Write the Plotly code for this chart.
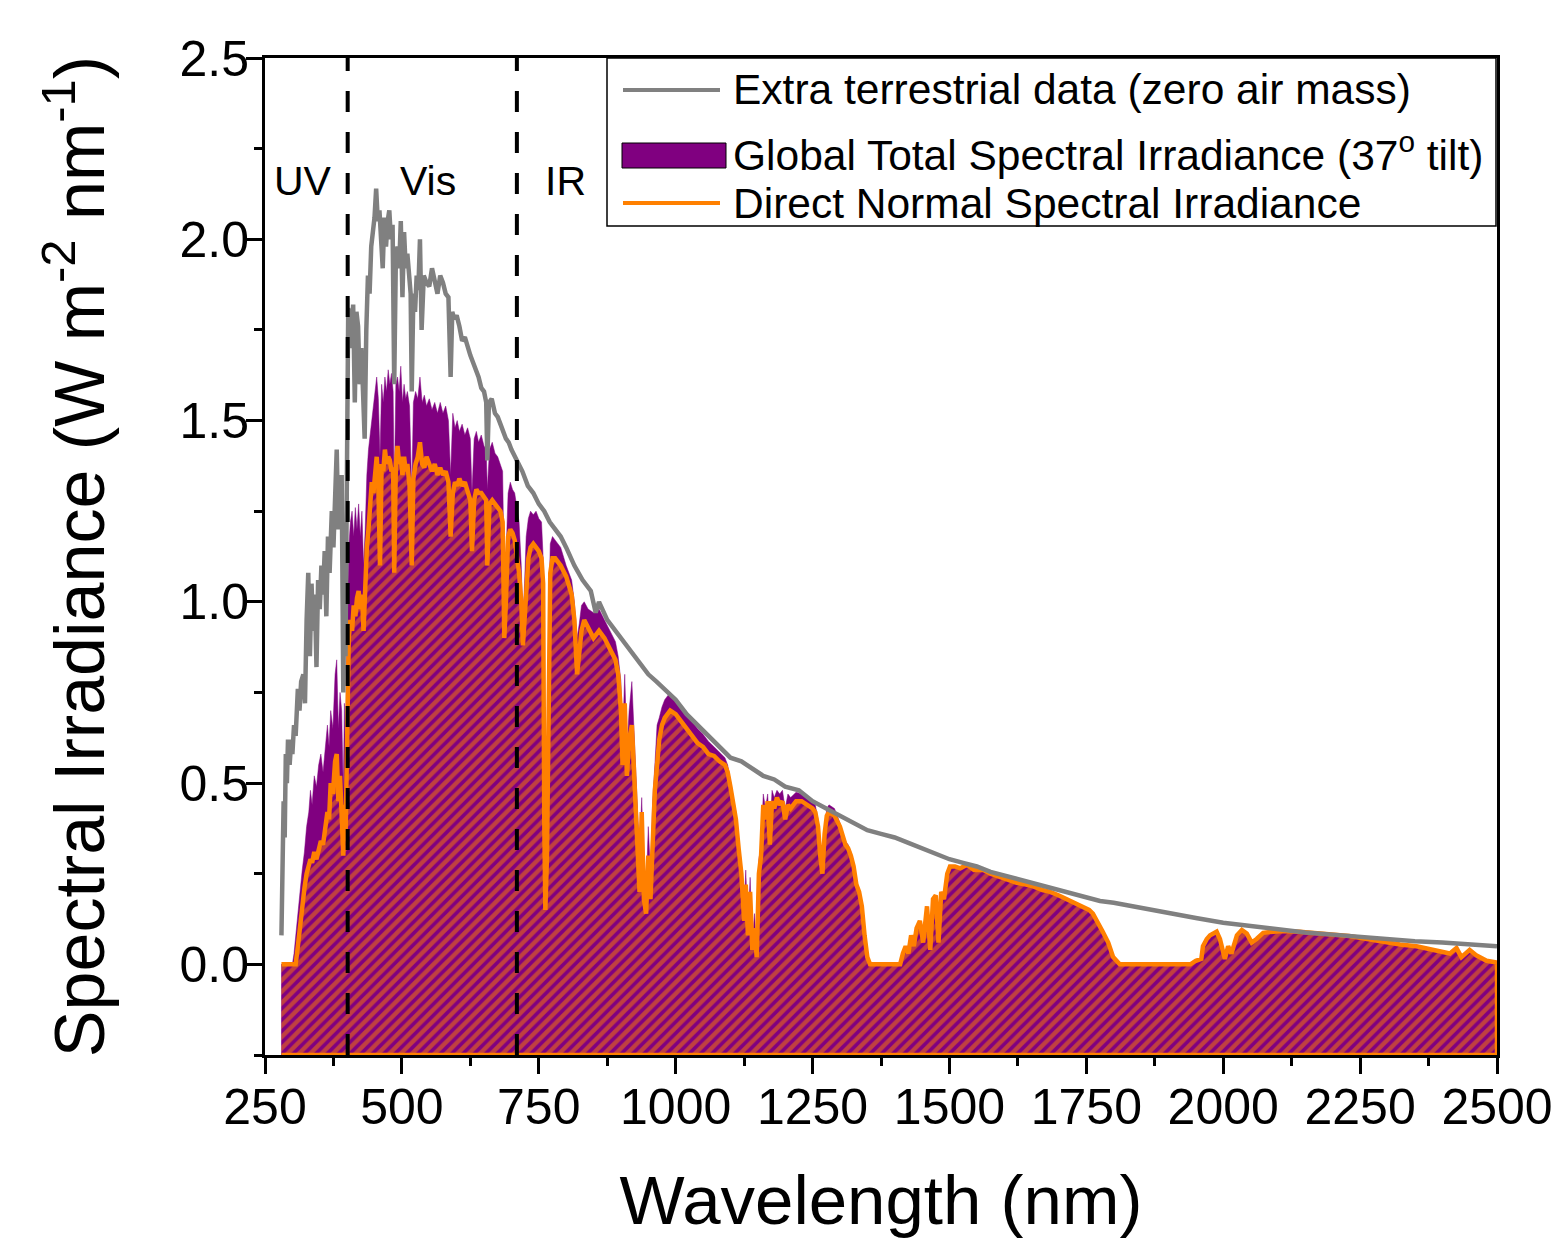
import plotly.graph_objects as go

# ---------------- data ----------------
# Extra-terrestrial spectrum (AM0)
wl_etr = [280, 282, 284, 286, 288, 290, 292, 295, 298, 300,
          303, 306, 310, 313, 316, 320, 323, 326, 329, 332,
          335, 338, 341, 344, 347, 350, 353, 356, 359, 362,
          365, 368, 372, 375, 378, 381, 384, 387, 390, 393,
          395, 397, 400, 402, 405, 408, 411, 414, 417, 420,
          423, 426, 429, 432, 435, 438, 441, 444, 447, 450,
          453, 456, 459, 462, 465, 468, 471, 474, 477, 480,
          483, 486, 489, 492, 495, 498, 501, 504, 507, 510,
          513, 516, 518, 521, 524, 527, 530, 533, 536, 540,
          545, 550, 555, 560, 565, 570, 575, 580, 585, 589,
          592, 596, 600, 605, 610, 615, 620, 625, 630, 635,
          640, 645, 650, 654, 656, 659, 664, 670, 675, 680,
          685, 690, 695, 700, 710, 720, 730, 740, 750, 760,
          770, 780, 790, 800, 815, 830, 845, 854, 860, 875,
          890, 905, 920, 935, 950, 965, 980, 1000, 1020, 1040,
          1060, 1080, 1100, 1120, 1140, 1160, 1180, 1200, 1225, 1250,
          1275, 1300, 1325, 1350, 1375, 1400, 1425, 1450, 1475, 1500,
          1525, 1550, 1575, 1600, 1625, 1650, 1675, 1700, 1725, 1750,
          1775, 1800, 1850, 1900, 1950, 2000, 2050, 2100, 2150, 2200,
          2250, 2300, 2350, 2400, 2450, 2500]
etr = [0.08, 0.25, 0.45, 0.35, 0.58, 0.50, 0.62, 0.55, 0.62, 0.58,
       0.66, 0.63, 0.76, 0.70, 0.78, 0.80, 0.72, 0.95, 1.08, 0.85,
       1.05, 0.92, 1.02, 0.82, 1.06, 0.98, 1.10, 1.02, 1.14, 0.96,
       1.18, 1.08, 1.25, 1.15, 1.32, 1.42, 1.20, 1.30, 1.35, 0.75,
       1.05, 0.85, 1.62, 1.81, 1.78, 1.70, 1.82, 1.55, 1.80, 1.76,
       1.60, 1.70, 1.58, 1.45, 1.75, 1.90, 1.85, 1.98, 2.02, 2.06,
       2.14, 2.05, 2.08, 1.98, 1.92, 2.06, 1.98, 2.05, 2.08, 2.00,
       2.04, 1.60, 1.95, 1.98, 1.92, 2.05, 1.84, 2.02, 1.92, 1.96,
       1.90, 1.85, 1.58, 1.85, 1.80, 1.90, 1.86, 2.00, 1.75, 1.90,
       1.88, 1.87, 1.92, 1.89, 1.85, 1.90, 1.88, 1.85, 1.84, 1.62,
       1.80, 1.78, 1.79, 1.76, 1.72, 1.73, 1.70, 1.68, 1.66, 1.64,
       1.62, 1.59, 1.58, 1.55, 1.39, 1.55, 1.56, 1.52, 1.51, 1.49,
       1.47, 1.45, 1.44, 1.42, 1.39, 1.36, 1.32, 1.30, 1.27, 1.25,
       1.22, 1.20, 1.18, 1.15, 1.10, 1.06, 1.03, 0.97, 1.00, 0.95,
       0.92, 0.89, 0.86, 0.83, 0.80, 0.78, 0.76, 0.73, 0.69, 0.66,
       0.63, 0.60, 0.57, 0.56, 0.54, 0.52, 0.51, 0.49, 0.48, 0.45,
       0.43, 0.41, 0.39, 0.37, 0.36, 0.35, 0.335, 0.32, 0.305, 0.29,
       0.28, 0.27, 0.255, 0.245, 0.235, 0.225, 0.215, 0.205, 0.195, 0.185,
       0.175, 0.17, 0.155, 0.14, 0.128, 0.115, 0.105, 0.095, 0.088, 0.082,
       0.075, 0.07, 0.064, 0.06, 0.055, 0.05]

# Ground-level spectra (global tilted and direct normal) share one wavelength grid
wl_ground = [280, 290, 300, 303, 306, 310, 314, 318, 322, 326,
             330, 333, 336, 340, 344, 348, 352, 356, 360, 364,
             367, 370, 374, 378, 381, 384, 387, 390, 393, 395,
             397, 400, 403, 406, 409, 412, 415, 418, 421, 424,
             427, 430, 433, 436, 439, 442, 445, 448, 451, 454,
             457, 460, 463, 466, 469, 472, 475, 478, 481, 484,
             486, 489, 492, 495, 498, 501, 504, 507, 510, 514,
             518, 521, 525, 529, 533, 537, 541, 545, 550, 555,
             560, 565, 570, 575, 580, 585, 589, 593, 597, 601,
             605, 610, 615, 620, 625, 628, 632, 636, 640, 645,
             650, 654, 656, 660, 665, 670, 675, 680, 684, 687,
             690, 694, 698, 702, 706, 710, 714, 718, 721, 724,
             727, 731, 735, 740, 745, 750, 755, 758, 760, 762,
             765, 768, 771, 775, 780, 790, 800, 810, 815, 820,
             824, 828, 833, 840, 850, 860, 870, 880, 890, 895,
             900, 903, 907, 911, 915, 920, 925, 930, 934, 938,
             942, 946, 950, 954, 958, 962, 966, 970, 975, 980,
             990, 1000, 1010, 1020, 1030, 1040, 1050, 1060, 1070, 1080,
             1090, 1095, 1100, 1105, 1110, 1115, 1120, 1125, 1128, 1132,
             1136, 1140, 1144, 1148, 1152, 1156, 1160, 1164, 1168, 1172,
             1176, 1180, 1185, 1190, 1195, 1200, 1205, 1210, 1220, 1230,
             1240, 1250, 1255, 1260, 1264, 1268, 1272, 1276, 1280, 1290,
             1300, 1305, 1310, 1315, 1320, 1325, 1330, 1335, 1340, 1345,
             1350, 1355, 1400, 1410, 1415, 1420, 1425, 1430, 1435, 1440,
             1446, 1452, 1459, 1465, 1470, 1475, 1480, 1485, 1490, 1496,
             1501, 1510, 1520, 1532, 1545, 1562, 1575, 1592, 1610, 1623,
             1640, 1653, 1670, 1684, 1700, 1714, 1730, 1744, 1755, 1762,
             1770, 1780, 1790, 1799, 1811, 1940, 1950, 1960, 1963, 1970,
             1976, 1988, 1994, 2003, 2009, 2015, 2025, 2034, 2043, 2052,
             2061, 2073, 2091, 2110, 2140, 2170, 2201, 2230, 2263, 2290,
             2323, 2353, 2383, 2400, 2414, 2426, 2435, 2450, 2462, 2481,
             2500]

global_tilt = [0.0, 0.0, 0.0, 0.03, 0.08, 0.15, 0.20, 0.26, 0.31, 0.38,
               0.42, 0.48, 0.44, 0.52, 0.49, 0.55, 0.58, 0.53, 0.60, 0.66,
               0.60, 0.70, 0.65, 0.80, 0.84, 0.65, 0.75, 0.70, 0.48, 0.72,
               0.55, 0.95, 1.15, 1.22, 1.25, 1.18, 1.26, 1.20, 1.27, 1.18,
               1.25, 1.10, 1.20, 1.35, 1.42, 1.46, 1.50, 1.55, 1.58, 1.62,
               1.56, 1.40, 1.60, 1.55, 1.62, 1.58, 1.64, 1.60, 1.63, 1.58,
               1.30, 1.60, 1.62, 1.58, 1.65, 1.55, 1.60, 1.56, 1.58, 1.54,
               1.30, 1.55, 1.58, 1.56, 1.62, 1.55, 1.57, 1.54, 1.56, 1.53,
               1.55, 1.52, 1.55, 1.52, 1.54, 1.50, 1.35, 1.52, 1.48, 1.50,
               1.47, 1.49, 1.46, 1.48, 1.45, 1.30, 1.45, 1.47, 1.44, 1.46,
               1.43, 1.42, 1.31, 1.42, 1.44, 1.41, 1.40, 1.38, 1.36, 1.05,
               1.12, 1.30, 1.33, 1.31, 1.30, 1.26, 1.22, 1.10, 0.95, 1.05,
               1.18, 1.23, 1.25, 1.24, 1.25, 1.23, 1.22, 1.12, 0.50, 0.25,
               0.40, 0.95, 1.16, 1.18, 1.17, 1.15, 1.10, 1.06, 1.00, 0.90,
               0.94, 0.99, 1.00, 0.98, 0.97, 0.98, 0.95, 0.92, 0.89, 0.85,
               0.78, 0.62, 0.80, 0.59, 0.70, 0.78, 0.60, 0.40, 0.30, 0.46,
               0.25, 0.20, 0.38, 0.25, 0.45, 0.55, 0.66, 0.68, 0.71, 0.73,
               0.75, 0.73, 0.71, 0.69, 0.67, 0.65, 0.635, 0.615, 0.60, 0.585,
               0.57, 0.55, 0.51, 0.47, 0.42, 0.34, 0.28, 0.15, 0.26, 0.10,
               0.24, 0.06, 0.14, 0.03, 0.29, 0.33, 0.47, 0.43, 0.47, 0.36,
               0.48, 0.46, 0.48, 0.47, 0.48, 0.43, 0.47, 0.46, 0.475, 0.47,
               0.46, 0.45, 0.44, 0.40, 0.32, 0.27, 0.38, 0.43, 0.44, 0.43,
               0.39, 0.36, 0.34, 0.33, 0.31, 0.28, 0.23, 0.21, 0.17, 0.09,
               0.025, 0.0, 0.0, 0.0, 0.03, 0.05, 0.03, 0.08, 0.05, 0.10,
               0.12, 0.06, 0.16, 0.04, 0.18, 0.19, 0.06, 0.20, 0.18, 0.25,
               0.27, 0.27, 0.265, 0.275, 0.26, 0.26, 0.25, 0.24, 0.23, 0.225,
               0.22, 0.215, 0.205, 0.20, 0.19, 0.18, 0.17, 0.16, 0.15, 0.14,
               0.12, 0.09, 0.06, 0.02, 0.0, 0.0, 0.01, 0.015, 0.05, 0.07,
               0.08, 0.09, 0.07, 0.015, 0.05, 0.03, 0.08, 0.095, 0.085, 0.06,
               0.07, 0.087, 0.09, 0.092, 0.09, 0.087, 0.083, 0.078, 0.07, 0.063,
               0.055, 0.05, 0.04, 0.035, 0.03, 0.045, 0.02, 0.04, 0.025, 0.01,
               0.005]

direct_normal = [0.0, 0.0, 0.0, 0.0, 0.0, 0.05, 0.11, 0.16, 0.21, 0.25,
                 0.27, 0.29, 0.28, 0.31, 0.29, 0.32, 0.34, 0.33, 0.38, 0.42,
                 0.40, 0.50, 0.47, 0.56, 0.58, 0.45, 0.52, 0.42, 0.30, 0.44,
                 0.34, 0.62, 0.90, 0.95, 0.92, 0.99, 0.96, 1.01, 1.03, 0.98,
                 1.02, 0.92, 1.05, 1.15, 1.20, 1.26, 1.33, 1.30, 1.36, 1.40,
                 1.32, 1.10, 1.38, 1.36, 1.42, 1.38, 1.40, 1.39, 1.36, 1.37,
                 1.08, 1.38, 1.43, 1.38, 1.40, 1.35, 1.40, 1.36, 1.38, 1.32,
                 1.10, 1.34, 1.38, 1.40, 1.44, 1.38, 1.37, 1.40, 1.38, 1.36,
                 1.38, 1.35, 1.37, 1.35, 1.36, 1.33, 1.18, 1.30, 1.33, 1.32,
                 1.34, 1.32, 1.33, 1.30, 1.28, 1.14, 1.28, 1.31, 1.30, 1.30,
                 1.29, 1.28, 1.10, 1.27, 1.28, 1.27, 1.26, 1.25, 1.22, 0.90,
                 1.00, 1.18, 1.20, 1.19, 1.17, 1.12, 1.08, 1.00, 0.88, 0.95,
                 1.05, 1.12, 1.15, 1.16, 1.15, 1.14, 1.12, 1.05, 0.40, 0.15,
                 0.30, 0.85, 1.08, 1.12, 1.12, 1.10, 1.07, 1.02, 0.95, 0.80,
                 0.86, 0.92, 0.95, 0.93, 0.90, 0.92, 0.90, 0.87, 0.84, 0.80,
                 0.70, 0.55, 0.72, 0.52, 0.62, 0.66, 0.50, 0.30, 0.20, 0.42,
                 0.18, 0.14, 0.30, 0.18, 0.35, 0.48, 0.55, 0.62, 0.66, 0.68,
                 0.70, 0.69, 0.67, 0.65, 0.63, 0.61, 0.60, 0.58, 0.575, 0.56,
                 0.55, 0.53, 0.49, 0.45, 0.40, 0.32, 0.25, 0.12, 0.22, 0.08,
                 0.20, 0.04, 0.10, 0.02, 0.25, 0.30, 0.44, 0.40, 0.45, 0.33,
                 0.45, 0.43, 0.46, 0.44, 0.45, 0.40, 0.44, 0.43, 0.45, 0.45,
                 0.44, 0.43, 0.42, 0.38, 0.30, 0.25, 0.36, 0.41, 0.42, 0.41,
                 0.38, 0.35, 0.33, 0.32, 0.30, 0.27, 0.22, 0.20, 0.16, 0.08,
                 0.02, 0.0, 0.0, 0.0, 0.03, 0.05, 0.03, 0.08, 0.05, 0.10,
                 0.12, 0.06, 0.16, 0.04, 0.18, 0.19, 0.06, 0.20, 0.18, 0.25,
                 0.27, 0.27, 0.265, 0.275, 0.26, 0.26, 0.25, 0.24, 0.23, 0.225,
                 0.22, 0.215, 0.205, 0.20, 0.19, 0.18, 0.17, 0.16, 0.15, 0.14,
                 0.12, 0.09, 0.06, 0.02, 0.0, 0.0, 0.01, 0.015, 0.05, 0.07,
                 0.08, 0.09, 0.07, 0.015, 0.05, 0.03, 0.08, 0.095, 0.085, 0.06,
                 0.07, 0.087, 0.09, 0.092, 0.09, 0.087, 0.083, 0.078, 0.07, 0.063,
                 0.055, 0.05, 0.04, 0.035, 0.03, 0.045, 0.02, 0.04, 0.025, 0.01,
                 0.005]

assert len(wl_etr) == len(etr)
assert len(wl_ground) == len(global_tilt) == len(direct_normal)

x_ticks = [250, 500, 750, 1000, 1250, 1500, 1750, 2000, 2250, 2500]
y_ticks = [0.0, 0.5, 1.0, 1.5, 2.0, 2.5]
X_RANGE = [250, 2500]
Y_RANGE = [-0.25, 2.5]
region_bounds = [401, 710]          # UV | Vis | IR boundaries (nm)
region_labels = [("UV", 319), ("Vis", 548), ("IR", 798)]

series_names = ["Extra terrestrial data (zero air mass)",
                "Global Total Spectral Irradiance (37<sup>o</sup> tilt)",
                "Direct Normal Spectral Irradiance"]

GRAY = "#808080"
PURPLE = "#800080"
ORANGE = "#FF8000"
FONT = "Liberation Sans, Arial, sans-serif"

# the page places the figure at (8, 8) (body margin)
OFF = 8
FIG_W, FIG_H = 1561 - OFF, 1239 - OFF
# plot-area edges in page pixels (from the reference)
PL, PR, PT, PB = 265, 1497, 58, 1055

# ---------------- figure ----------------
fig = go.Figure()

ymin = Y_RANGE[0]
# Global tilt: solid purple area down to the bottom of the axis
fig.add_trace(go.Scatter(
    x=wl_ground + [wl_ground[-1], wl_ground[0]],
    y=global_tilt + [ymin, ymin],
    mode="lines", fill="toself", fillcolor=PURPLE,
    line=dict(color=PURPLE, width=0.5),
    name=series_names[1], showlegend=False, hoverinfo="skip"))

# Direct normal: orange outline, hatched fill
fig.add_trace(go.Scatter(
    x=wl_ground + [wl_ground[-1], wl_ground[0]],
    y=direct_normal + [ymin, ymin],
    mode="lines", fill="toself", fillcolor=PURPLE,
    fillpattern=dict(shape="/", fgcolor=ORANGE, bgcolor=PURPLE,
                     size=8, solidity=0.55),
    line=dict(color=ORANGE, width=4.5),
    name=series_names[2], showlegend=False, hoverinfo="skip"))

# Extra-terrestrial line
fig.add_trace(go.Scatter(
    x=wl_etr, y=etr, mode="lines",
    line=dict(color=GRAY, width=4.5),
    name=series_names[0], showlegend=False))

shapes = []
for xb in region_bounds:
    shapes.append(dict(type="line", xref="x", yref="y",
                       x0=xb, x1=xb, y0=Y_RANGE[0], y1=Y_RANGE[1],
                       line=dict(color="black", width=4, dash="21px,20px")))

def px(xp):
    return (xp - PL) / (PR - PL)
def py(yp):
    return (PB - yp) / (PB - PT)

# manual legend box
shapes.append(dict(type="rect", xref="paper", yref="paper",
                   x0=px(607), x1=px(1496), y0=py(226), y1=py(58),
                   line=dict(color="black", width=1.5), fillcolor="white"))
shapes.append(dict(type="line", xref="paper", yref="paper",
                   x0=px(623), x1=px(720), y0=py(90), y1=py(90),
                   line=dict(color=GRAY, width=4)))
shapes.append(dict(type="rect", xref="paper", yref="paper",
                   x0=px(622), x1=px(726), y0=py(168), y1=py(143),
                   line=dict(color="black", width=1), fillcolor=PURPLE))
shapes.append(dict(type="line", xref="paper", yref="paper",
                   x0=px(623), x1=px(720), y0=py(203), y1=py(203),
                   line=dict(color=ORANGE, width=4)))

annotations = []
for name, ypix in zip(series_names, [90, 152, 203]):
    annotations.append(dict(text=name, xref="paper", yref="paper",
                            x=px(731), y=py(ypix), xanchor="left", yanchor="middle",
                            showarrow=False,
                            font=dict(family=FONT, size=42.5, color="black")))
for lab, xl in region_labels:
    annotations.append(dict(text=lab, xref="x", yref="paper",
                            x=xl, y=py(181), xanchor="center", yanchor="middle",
                            showarrow=False,
                            font=dict(family=FONT, size=41, color="black")))

fig.update_layout(
    width=FIG_W, height=FIG_H, autosize=False,
    margin=dict(l=PL - OFF, r=1561 - PR, t=PT - OFF, b=1239 - PB, pad=0),
    paper_bgcolor="white", plot_bgcolor="white",
    font=dict(family=FONT, color="black"),
    shapes=shapes, annotations=annotations, showlegend=False,
    xaxis=dict(range=X_RANGE, tickvals=x_ticks, ticktext=[str(v) for v in x_ticks],
               automargin=False,
               ticks="outside", ticklen=16, tickwidth=2.5, tickcolor="black",
               minor=dict(dtick=125, tick0=250, ticks="outside", ticklen=8,
                          tickwidth=2.5, tickcolor="black"),
               showline=True, linecolor="black", linewidth=3, mirror=True,
               showgrid=False, zeroline=False, ticklabelstandoff=-10,
               tickfont=dict(family=FONT, size=50, color="black"),
               title=dict(text="Wavelength (nm)", standoff=45,
                          font=dict(family=FONT, size=69, color="black"))),
    yaxis=dict(range=Y_RANGE, tickvals=y_ticks, ticktext=[f"{v:.1f}" for v in y_ticks],
               automargin=False,
               ticks="outside", ticklen=16, tickwidth=2.5, tickcolor="black",
               minor=dict(dtick=0.25, tick0=0, ticks="outside", ticklen=8,
                          tickwidth=2.5, tickcolor="black"),
               showline=True, linecolor="black", linewidth=3, mirror=True,
               showgrid=False, zeroline=False, ticklabelstandoff=-13,
               tickfont=dict(family=FONT, size=50, color="black"),
               title=dict(text="Spectral Irradiance (W m<sup>-2</sup> nm<sup>-1</sup>)",
                          standoff=52,
                          font=dict(family=FONT, size=70, color="black"))),
)

fig.write_html("out.html")
